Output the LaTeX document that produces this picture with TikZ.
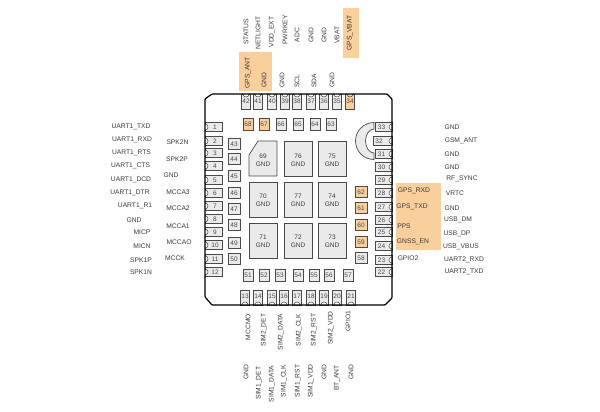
\documentclass[tikz,border=0pt]{standalone}
\usepackage{fontspec}
\setmainfont{Liberation Sans}
\definecolor{gpsorange}{HTML}{F9CF9C}
\definecolor{padgray}{HTML}{EAEAEA}
\definecolor{padline}{HTML}{4A4A4A}
\definecolor{labeltext}{HTML}{3A3A3A}
\tikzset{
  lbl/.style={font=\fontsize{6.7}{8}\selectfont, text=labeltext, inner sep=0pt},
  lblup/.style={lbl, rotate=90},
  panel/.style={fill=gpsorange, draw=none},
  pinbox/.style={draw=padline, fill=padgray, line width=0.6pt, inner sep=0pt, text=padline,
    font=\fontsize{6.5}{7}\selectfont},
  pinh/.style={pinbox, minimum width=17pt, minimum height=8.5pt},
  pinv/.style={pinbox, minimum width=8.5pt, minimum height=15pt},
  pad/.style={pinbox, minimum width=12pt, minimum height=11pt},
  padv/.style={pinbox, minimum width=10pt, minimum height=12pt},
  gndblock/.style={draw=padline, fill=padgray, line width=0.7pt},
  pinarc/.style={draw=padline, line width=0.5pt, fill=white}
}
\begin{document}
\begin{tikzpicture}[x=1pt,y=-1pt]
  \useasboundingbox (0,0) rectangle (600,412);
  % orange areas behind the labels
  \fill [panel] (239,52) rectangle (272,91);
  \fill [panel] (343,8) rectangle (359,58);
  \fill [panel] (396,183) rectangle (441,250);
  % left pins
  \foreach \n/\y in {1/127,2/141,3/153,4/166,5/180,6/193,7/206,8/219,9/232,10/245,11/259,12/272} {
    \node [pinh] (pin\n) at (213.5,\y) {\hspace*{3pt}\n};
    \draw [pinarc] (205,\y-3) arc [start angle=-90, end angle=90, radius=3];
  }
  % right pins
  \foreach \n/\y in {33/127,31/154,30/167,29/180,28/193,27/207,26/220,25/232,24/246,23/260,22/272} {
    \node [pinh] (pin\n) at (384,\y) {\n\hspace*{5pt}};
    \draw [pinarc] (392,\y-3) arc [start angle=-90, end angle=-270, radius=3];
  }
  \node [pinh, minimum width=19pt] (pin32) at (382.5,141) {32\hspace*{7pt}};
  \draw [pinarc] (392,138) arc [start angle=-90, end angle=-270, radius=3];
  % top pins
  \foreach \n/\x in {42/246,41/258,40/272,39/285,38/297,37/311,36/324,35/337} {
    \node [pinv] (pin\n) at (\x,101.5) {\raisebox{-4pt}{\n}};
    \draw [pinarc] (\x-3,94) arc [start angle=180, end angle=0, radius=3];
  }
  \node [pinv, fill=gpsorange] (pin34) at (350,101.5) {\raisebox{-4pt}{34}};
  \draw [pinarc, fill=gpsorange] (347,94) arc [start angle=180, end angle=0, radius=3];
  % bottom pins
  \foreach \n/\x in {13/245,14/258,15/272,16/284,17/297,18/311,19/324,20/337,21/351} {
    \node [pinv] (pin\n) at (\x,297.5) {\raisebox{3pt}{\n}};
    \draw [pinarc] (\x-3,305) arc [start angle=180, end angle=360, radius=3];
  }
  % body outline
  \draw [line width=1.2pt, rounded corners=0.8pt] (212,94) -- (387,94) -- (392,99) -- (392,298)
    -- (385,305) -- (212,305) -- (205,297) -- (205,99) -- cycle;
  % inner pads
  \foreach \n/\y in {43/144,44/159,45/176,46/193,47/209,48/225,49/243,50/259}
    \node [pad] (pad\n) at (234,\y) {\n};
  \foreach \n/\x in {51/248,52/264,53/280,54/298,55/314,56/329,57/348}
    \node [padv] (pad\n) at (\x,275) {\n};
  \foreach \n/\x in {66/281,65/298,64/315,63/331}
    \node [padv] (pad\n) at (\x,124) {\n};
  \foreach \n/\x in {68/248,67/264}
    \node [padv, fill=gpsorange] (pad\n) at (\x,124) {\n};
  \foreach \n/\y in {62/192,61/208,60/225,59/242}
    \node [pad, fill=gpsorange] (pad\n) at (361,\y) {\n};
  \node [pad] (pad58) at (361,258) {58};
  % ground blocks
  \draw [gndblock] (258,141) -- (277,141) -- (277,176) -- (249,176) -- (249,155) -- cycle;
  \foreach \x/\y/\n in {284/141/76,318/141/75,249/182/70,284/182/77,318/182/74,
                        249/223/71,284/223/72,318/223/73}
    \draw [gndblock] (\x,\y) rectangle ++(28,35);
  \foreach \x/\y/\n in {263/160/69,298/160/76,332/160/75,263/200/70,298/200/77,332/200/74,
                        263/241/71,298/241/72,332/241/73}
    \node [lbl, align=center, font=\fontsize{6.5}{8}\selectfont] (gnd\n) at (\x,\y) {\n\\GND};
  % ring beside pin 32
  \draw [gndblock] (374,122.5) arc [start angle=-90, end angle=-270, radius=18.5]
    -- (374,153) arc [start angle=90, end angle=270, x radius=8.5, y radius=12] -- cycle;
  % left labels
  \foreach \x/\y/\t in {131/127/UART1\_TXD,132/140/UART1\_RXD,131.5/153/UART1\_RTS,130.5/166/UART1\_CTS,
      131/180/UART1\_DCD,130/193/UART1\_DTR,135/206/UART1\_R1,134/220/GND,142/232/MICP,142/246/MICN,
      141/260/SPK1P,141/272/SPK1N,177.5/142/SPK2N,177/159/SPK2P,171/175/GND,178/192/MCCA3,
      178/208/MCCA2,178/226/MCCA1,179/242/MCCAO,175/258/MCCK}
    \node [lbl] at (\x,\y) {\t};
  % right labels
  \foreach \x/\y/\t in {452/127/GND,461/141/GSM\_ANT,452/154/GND,452/167/GND,462/179/RF\_SYNC,455/193/VRTC,
      452/208/GND,458/220/USB\_DM,457/234/USB\_DP,461/247/USB\_VBUS,464/260/UART2\_RXD,464/272/UART2\_TXD,
      414/191/GPS\_RXD,412/207/GPS\_TXD,404/226/PPS,413/242/GNSS\_EN,408/258/GPIO2}
    \node [lbl] at (\x,\y) {\t};
  % top labels
  \foreach \x/\y/\t in {246/32/STATUS,258/33/NETLIGHT,272/32/VDD\_EXT,285/30/PWRKEY,297/35/ADC,311/35/GND,
      324/35/GND,337/35/VBAT,350/33/GPS\_VBAT,248/73/GPS\_ANT,264/80/GND,282/80/GND,297/81/SCL,
      314/81/SDA,332/80/GND}
    \node [lblup] at (\x,\y) {\t};
  % bottom labels
  \foreach \x/\y/\t in {248/327/MCCMO,264/330/SIM2\_DET,281/332/SIM2\_DATA,299/330/SIM2\_CLK,314/330/SIM2\_RST,
      331/328/SIM2\_VDD,348/321/GPIO1,246/372/GND,259/383/SIM1\_DET,272/384/SIM1\_DATA,284/381/SIM1\_CLK,
      298/381/SIM1\_RST,311/381/SIM1\_VDD,324/372/GND,337/378/BT\_ANT,351/372/GND}
    \node [lblup] at (\x,\y) {\t};
\end{tikzpicture}
\end{document}
